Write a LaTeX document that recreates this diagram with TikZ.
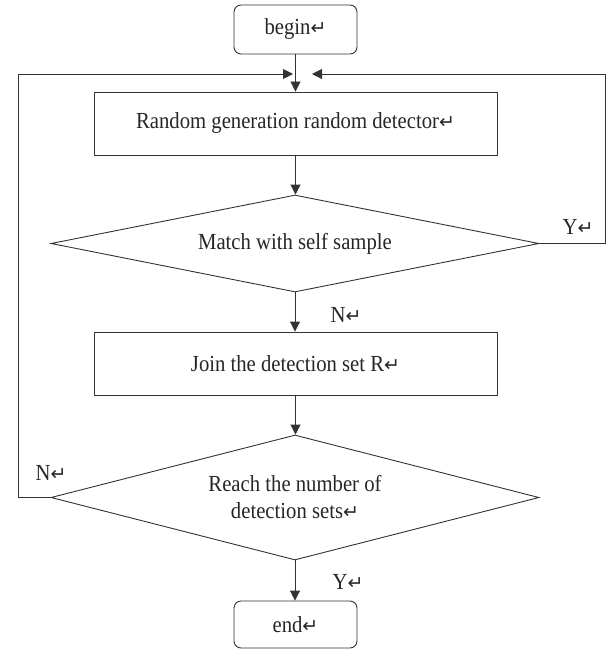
\documentclass[tikz,border=0pt]{standalone}
\usepackage{fontspec}
\setmainfont{Liberation Serif}[FakeStretch=0.9]
\newfontfamily\symf{DejaVu Sans}
\usetikzlibrary{shapes.geometric,arrows.meta}
\newcommand{\rt}{{\symf\fontsize{19}{19}\selectfont ↵}}
\begin{document}
\begin{tikzpicture}[x=1pt,y=-1pt,
  every node/.style={font=\fontsize{23}{27}\selectfont, text=black!85},
  ln/.style={line width=0.9pt, draw=black!80},
  arr/.style={ln, -{Triangle[length=10pt,width=10pt]}},
  term/.style={ln, rounded corners=7pt, minimum width=123pt, inner sep=0pt},
  proc/.style={ln, minimum width=403pt, minimum height=63pt, inner sep=0pt},
  dec/.style={ln, diamond, minimum width=488pt, inner sep=0pt, align=center},
  lbl/.style={inner sep=0pt}]
\useasboundingbox (0,0) rectangle (614,650);
\node[term, minimum height=49pt] (begin) at (295.5,29.5) {begin\rt};
\node[proc] (gen) at (295.5,123.5) {Random generation random detector\rt};
\node[dec, aspect=5, minimum height=97pt] (match) at (295,243.5) {Match with self sample};
\node[proc] (join) at (295.5,363.5) {Join the detection set R\rt};
\node[dec, aspect=3.9, minimum height=125pt] (reach) at (295,497.5) {Reach the number of\\detection sets\rt};
\node[term, minimum height=47pt] (end) at (295.5,624.5) {end\rt};
\coordinate (lc) at (18,74);
\coordinate (rc) at (605,74);
\coordinate (la) at (293,74);
\coordinate (ra) at (312,74);
\draw[arr] (begin.south) -- (begin.south |- gen.north);
\draw[arr] (gen.south) -- (gen.south |- match.north);
\draw[arr] (match.south) -- (match.south |- join.north);
\draw[arr] (join.south) -- (join.south |- reach.north);
\draw[arr] (reach.south) -- (reach.south |- end.north);
\draw[arr] (match.east) -| (rc) -- (ra);
\draw[arr] (reach.west) -| (lc) -- (la);
\node[lbl] (y1) at (578,227) {Y\rt};
\node[lbl] (n1) at (346,315) {N\rt};
\node[lbl] (n2) at (51,473) {N\rt};
\node[lbl] (y2) at (348,582) {Y\rt};
\end{tikzpicture}
\end{document}
